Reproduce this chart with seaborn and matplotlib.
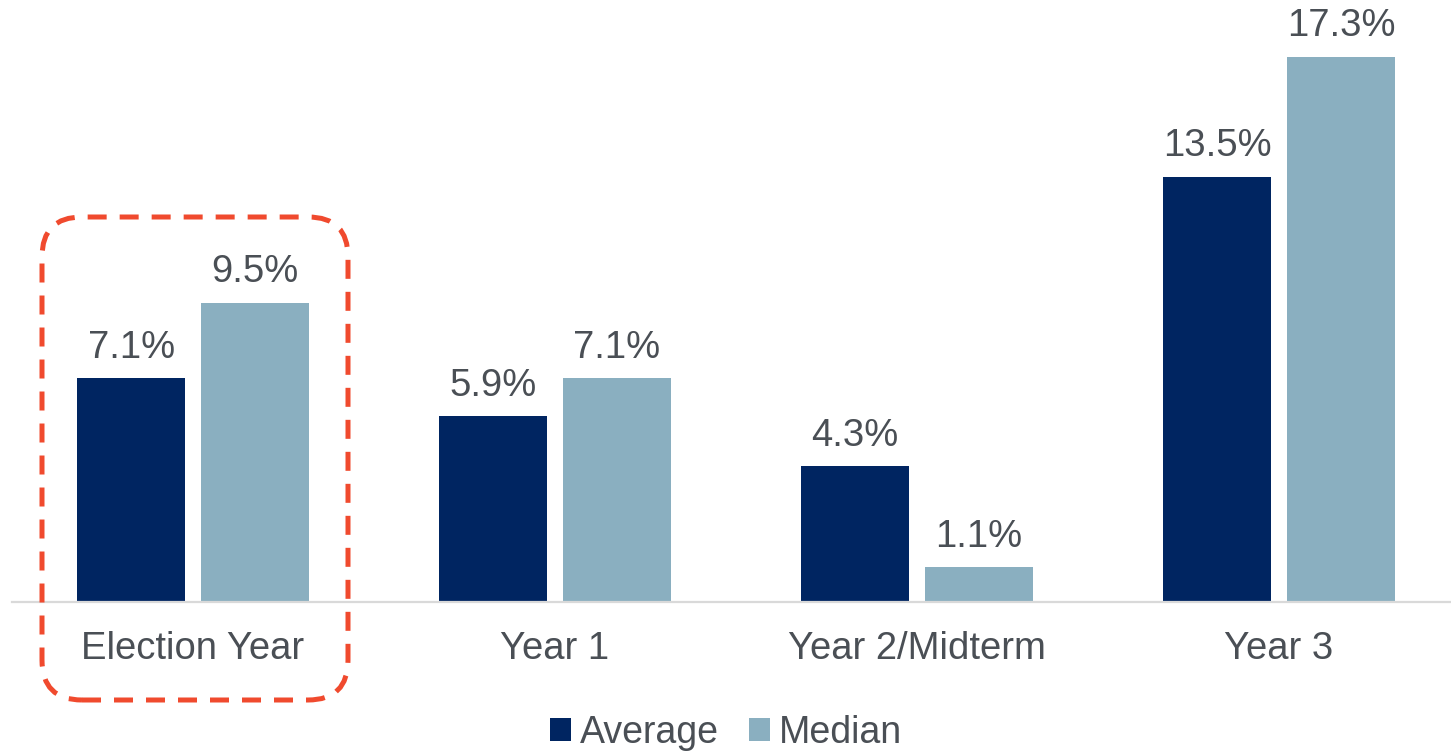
import pandas as pd
import matplotlib
matplotlib.use('Agg')
import matplotlib.pyplot as plt
import seaborn as sns
from matplotlib.patches import FancyBboxPatch
from matplotlib.transforms import IdentityTransform

# dados do gráfico
categories = ['Election Year', 'Year 1', 'Year 2/Midterm', 'Year 3']
average = [7.1, 5.9, 4.3, 13.5]
median = [9.5, 7.1, 1.1, 17.3]
series = ['Average', 'Median']
colors = ['#002561', '#8AAFC0']
text_color = '#4A4F55'

df = pd.DataFrame({
    'period': categories * 2,
    'value': average + median,
    'series': ['Average'] * len(categories) + ['Median'] * len(categories),
})

sns.set_theme(style='white')
plt.rcParams['font.family'] = ['Liberation Sans', 'DejaVu Sans']
fs = 27.5

fig = plt.figure(figsize=(14.51, 7.51), dpi=100)
ax = fig.add_axes([12 / 1451, 1 - 602 / 751, 1 - 12 / 1451, 602 / 751])

sns.barplot(data=df, x='period', y='value', hue='series', hue_order=series,
            palette=colors, width=0.684, gap=0.129, ax=ax, saturation=1,
            edgecolor='none', linewidth=0, legend=True)

for cont in ax.containers:
    ax.bar_label(cont, fmt='%.1f%%', padding=9, fontsize=fs, color=text_color)

ax.set_xlim(-0.5, 3.475)
ax.set_ylim(0, 19.1)
ax.set_xlabel('')
ax.set_ylabel('')
ax.set_yticks([])
ax.tick_params(axis='x', length=0, pad=21, labelsize=fs, labelcolor=text_color)
for side in ['top', 'right', 'left']:
    ax.spines[side].set_visible(False)
ax.spines['bottom'].set_color('#D9D9D9')
ax.spines['bottom'].set_linewidth(1.6)

leg = ax.legend(loc='center', bbox_to_anchor=(726 / 1451, 1 - 733 / 751),
                bbox_transform=fig.transFigure, ncol=2, frameon=False,
                fontsize=27, handlelength=0.55, handleheight=0.55,
                handletextpad=0.25, columnspacing=0.8, borderpad=0)
for t in leg.get_texts():
    t.set_color(text_color)

# caixa tracejada em volta de Election Year (coordenadas em pixels)
box = FancyBboxPatch((42 + 40, 751 - 700 + 40), 306 - 80, 483 - 80,
                     boxstyle='round,pad=40', transform=IdentityTransform(),
                     fill=False, edgecolor='#F04A2E', linewidth=3.6,
                     linestyle=(0, (3.8, 2.6)), clip_on=False)
fig.patches.append(box)

fig.savefig('out.png', dpi=100)
